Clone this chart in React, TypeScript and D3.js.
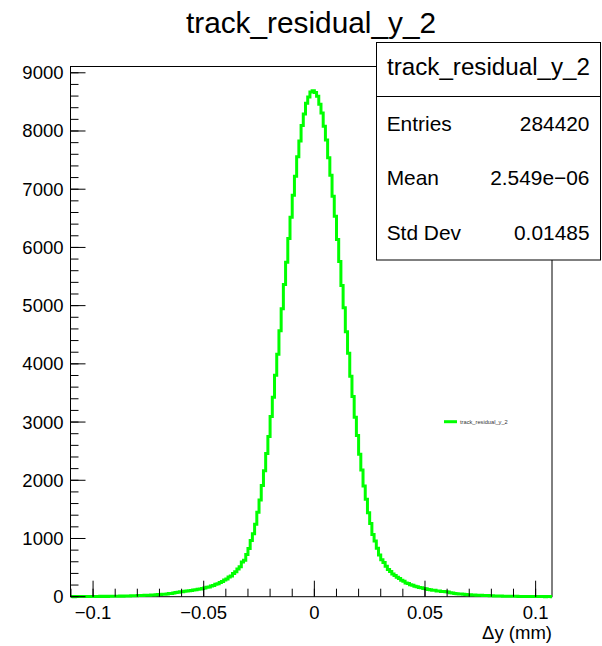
import React from "react";
import * as d3 from "d3";

const title = "track_residual_y_2";
const xAxisTitle = "Δy (mm)";
const binLow = -0.11;
const binWidth = 0.001;
// counts per bin, from -0.11 to 0.11 (220 bins)
const counts = [
  2, 1, 3, 2, 2, 3, 2, 4, 3, 3, 5, 4, 4, 6, 5, 6, 5, 7, 6, 8, 8, 9, 10, 9, 11, 12, 14, 15, 15, 18,
  19, 21, 22, 25, 26, 27, 30, 31, 34, 36, 38, 42, 44, 48, 53, 56, 62, 71, 77, 85, 87, 93, 96, 104,
  107, 115, 119, 128, 133, 143, 149, 161, 168, 184, 193, 212, 223, 243, 259, 288, 306, 338, 357,
  398, 427, 474, 516, 594, 627, 724, 826, 965, 1081, 1245, 1452, 1660, 1912, 2163, 2460, 2752,
  3094, 3425, 3803, 4165, 4570, 4948, 5362, 5744, 6152, 6518, 6896, 7224, 7556, 7830, 8096, 8292,
  8475, 8584, 8670,
  8690,
  8660, 8598, 8461, 8308, 8081, 7845, 7541, 7240, 6880, 6534, 6138, 5760, 5348, 4963, 4553, 4180,
  3789, 3440, 3081, 2768, 2447, 2177, 1901, 1672, 1443, 1257, 1070, 955, 834, 716, 633, 586, 524,
  466, 433, 392, 363, 332, 313, 282, 265, 237, 227, 207, 197, 180, 172, 158, 152, 140, 137, 124,
  121, 112, 109, 100, 98, 90, 89, 83, 79, 69, 64, 56, 51, 46, 45, 40, 39, 34, 33, 30, 29, 26, 25,
  23, 22, 19, 19, 16, 16, 14, 13, 11, 11, 9, 9, 8, 8, 7, 6, 6, 5, 5, 4, 5, 3, 4, 3, 3, 2, 3, 2, 2,
  1, 2, 2, 1, 1, 1,
];
const xMajorTicks = [-0.1, -0.05, 0, 0.05, 0.1];
const xTickLabels = ["−0.1", "−0.05", "0", "0.05", "0.1"];
const yMajorTicks = [0, 1000, 2000, 3000, 4000, 5000, 6000, 7000, 8000, 9000];
const yTickLabels = ["0", "1000", "2000", "3000", "4000", "5000", "6000", "7000", "8000", "9000"];
const statLabels = ["Entries", "Mean", "Std Dev"];
const statValues = ["284420", "2.549e−06", "0.01485"];

const FONT = "'Liberation Sans', Arial, Helvetica, sans-serif";
const GREEN = "#00ff00";

export default function App() {
  const W = 602, H = 646;
  const left = 70.5, right = 552, top = 66.5, bottom = 596.7;
  const x = d3.scaleLinear().domain([-0.1102, 0.1074]).range([left, right]);
  const y = d3.scaleLinear().domain([0, 9108]).range([bottom, top]);

  const pts: [number, number][] = [];
  counts.forEach((c, i) => {
    const lo = binLow + i * binWidth;
    pts.push([x(lo), y(c)]);
    pts.push([x(lo + binWidth), y(c)]);
  });
  const path = d3.line()(pts) || "";

  const xMinor = d3.range(-11, 11).map((k) => k * 0.01).filter((v) => v >= -0.1102 && v <= 0.1074);
  const yMinor = d3.range(0, 9101, 200);

  return (
    <svg width={W} height={H} style={{ position: "absolute", left: 0, top: 0, background: "#fff" }} fontFamily={FONT}>
      <rect x={0} y={0} width={W} height={H} fill="#fff" />
      <defs>
        <clipPath id="frameClip">
          <rect x={left} y={top - 5} width={right - left} height={bottom - top + 10} />
        </clipPath>
      </defs>
      {/* title */}
      <text x={311} y={33} fontSize={29.8} textAnchor="middle" fill="#000">{title}</text>

      {/* frame */}
      <rect x={left} y={top} width={right - left} height={bottom - top} fill="none" stroke="#000" strokeWidth={1} />

      {/* histogram */}
      <path d={path} fill="none" stroke={GREEN} strokeWidth={3} clipPath="url(#frameClip)" />

      {/* x ticks */}
      {xMinor.map((v, i) => (
        <line key={"xm" + i} x1={x(v)} x2={x(v)} y1={bottom} y2={bottom - 8} stroke="#000" strokeWidth={1} />
      ))}
      {xMajorTicks.map((v, i) => (
        <g key={"xM" + i}>
          <line x1={x(v)} x2={x(v)} y1={bottom} y2={bottom - 16} stroke="#000" strokeWidth={1} />
          <text x={x(v)} y={619} fontSize={18.5} textAnchor="middle" fill="#000">{xTickLabels[i]}</text>
        </g>
      ))}
      <text x={right} y={639} fontSize={18.5} textAnchor="end" fill="#000">{xAxisTitle}</text>

      {/* y ticks */}
      {yMinor.map((v, i) => (
        <line key={"ym" + i} x1={left} x2={left + 8} y1={y(v)} y2={y(v)} stroke="#000" strokeWidth={1} />
      ))}
      {yMajorTicks.map((v, i) => (
        <g key={"yM" + i}>
          <line x1={left} x2={left + 15} y1={y(v)} y2={y(v)} stroke="#000" strokeWidth={1} />
          <text x={63.5} y={y(v)} dy="0.35em" fontSize={18.5} textAnchor="end" fill="#000">{yTickLabels[i]}</text>
        </g>
      ))}

      {/* legend */}
      <line x1={444} x2={457} y1={421.7} y2={421.7} stroke={GREEN} strokeWidth={3} />
      <text x={460} y={423.7} fontSize={5.7} fill="#333">{title}</text>

      {/* stat box */}
      <rect x={376.5} y={42.5} width={224} height={217.5} fill="#fff" stroke="#000" strokeWidth={1} />
      <line x1={376.5} x2={600.5} y1={96.5} y2={96.5} stroke="#000" strokeWidth={1} />
      <text x={488.5} y={75} fontSize={24.2} textAnchor="middle" fill="#000">{title}</text>
      {statLabels.map((s, i) => (
        <g key={"st" + i}>
          <text x={386.7} y={130.7 + i * 54.7} fontSize={20.9} fill="#000">{s}</text>
          <text x={589.5} y={130.7 + i * 54.7} fontSize={20.9} textAnchor="end" fill="#000">{statValues[i]}</text>
        </g>
      ))}
    </svg>
  );
}
